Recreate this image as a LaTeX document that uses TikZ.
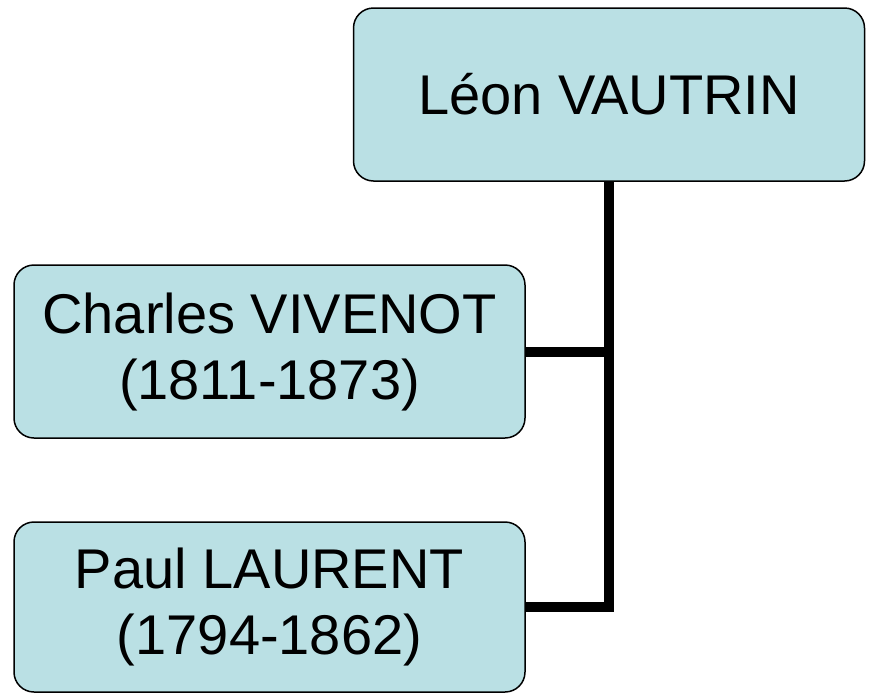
\documentclass[tikz,border=0pt]{standalone}
\usepackage{fontspec}
\setmainfont{Liberation Sans}
\definecolor{boxfill}{HTML}{BAE0E4}
\begin{document}
\begin{tikzpicture}[x=1pt,y=-1pt,
  person/.style={draw=black,line width=1.5pt,fill=boxfill,rounded corners=20pt,
    minimum width=511pt,minimum height=173pt,align=center,inner sep=0pt,
    font=\fontsize{56}{66}\selectfont},
  link/.style={line width=10pt,draw=black,line join=miter}]
\useasboundingbox (0,0) rectangle (872,694);
\node[person] (top) at (609,94.5) {Léon VAUTRIN};
\node[person] (c1) at (269.5,351.5) {\raisebox{-4pt}{Charles VIVENOT}\\\raisebox{-4pt}{(1811-1873)}};
\node[person,minimum height=170pt] (c2) at (269.5,607) {\raisebox{-4pt}{Paul LAURENT}\\\raisebox{-4pt}{(1794-1862)}};
\draw[link] (top.south) -- (top.south |- c2.east) -- (c2.east);
\draw[link] (c1.east) -- (c1.east -| top.south);
\end{tikzpicture}
\end{document}
